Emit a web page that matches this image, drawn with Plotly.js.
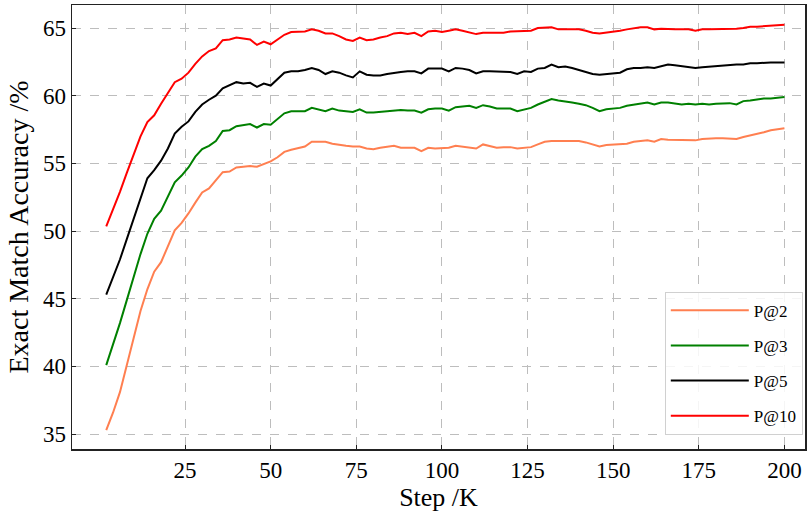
<!DOCTYPE html>
<html>
<head>
<meta charset="utf-8">
<script src="https://cdn.plot.ly/plotly-3.0.1.min.js"></script>
<style>html,body{margin:0;padding:0;background:#fff;}#chart{width:808px;height:513px;}</style>
</head>
<body>
<div id="chart"></div>
<script>
const steps = [2,4,6,8,10,12,14,16,18,20,22,24,26,28,30,32,34,36,38,40,
  42,44,46,48,50,52,54,56,58,60,62,64,66,68,70,72,74,76,78,80,
  82,84,86,88,90,92,94,96,98,100,102,104,106,108,110,112,114,116,118,120,
  122,124,126,128,130,132,134,136,138,140,142,144,146,148,150,152,154,156,158,160,
  162,164,166,168,170,172,174,176,178,180,182,184,186,188,190,192,194,196,198,200];

const p2 = [35.3,36.6,38.1,40.1,42.2,44.1,45.7,47.0,47.7,48.9,50.05,50.6,51.3,52.1,52.85,53.15,53.75,54.35,54.4,54.7,
  54.75,54.8,54.75,54.95,55.15,55.45,55.85,56.0,56.1,56.25,56.6,56.6,56.6,56.45,56.35,56.3,56.25,56.25,56.1,56.05,
  56.15,56.2,56.3,56.15,56.15,56.15,55.9,56.15,56.1,56.1,56.15,56.3,56.25,56.2,56.1,56.4,56.3,56.15,56.2,56.2,
  56.1,56.15,56.2,56.4,56.6,56.65,56.65,56.7,56.7,56.65,56.55,56.4,56.25,56.35,56.4,56.4,56.45,56.6,56.65,56.7,
  56.6,56.8,56.75,56.75,56.7,56.75,56.7,56.8,56.85,56.85,56.85,56.85,56.8,56.95,57.05,57.2,57.3,57.45,57.5,57.6];

const p3 = [40.1,41.6,43.2,44.9,46.6,48.3,49.8,50.9,51.5,52.5,53.6,54.1,54.7,55.5,56.05,56.3,56.65,57.4,57.45,57.75,
  57.8,57.9,57.65,57.9,57.85,58.3,58.7,58.85,58.85,58.85,59.1,59.0,58.85,59.05,58.9,58.85,58.8,59.0,58.75,58.75,
  58.8,58.85,58.95,58.95,58.9,58.9,58.75,59.0,59.05,59.05,58.9,59.15,59.2,59.25,59.1,59.3,59.2,59.05,59.05,59.05,
  58.85,59.0,59.1,59.35,59.55,59.75,59.65,59.6,59.5,59.4,59.3,59.1,58.85,59.0,59.05,59.1,59.25,59.35,59.4,59.5,
  59.35,59.5,59.5,59.45,59.35,59.4,59.35,59.4,59.35,59.4,59.4,59.45,59.35,59.6,59.65,59.75,59.8,59.8,59.85,59.9];

const p5 = [45.3,46.6,47.9,49.4,50.9,52.5,53.9,54.5,55.2,56.1,57.2,57.7,58.1,58.8,59.35,59.7,60.0,60.55,60.8,61.0,
  60.9,60.95,60.65,60.9,60.75,61.25,61.7,61.8,61.8,61.9,62.05,61.9,61.6,61.8,61.7,61.5,61.35,61.8,61.55,61.5,
  61.5,61.6,61.7,61.75,61.8,61.8,61.65,62.0,62.0,62.0,61.8,62.05,62.0,61.9,61.65,61.8,61.8,61.8,61.8,61.75,
  61.6,61.8,61.75,62.0,62.05,62.3,62.1,62.15,62.05,61.9,61.75,61.6,61.55,61.6,61.6,61.7,61.95,62.05,62.05,62.1,
  62.05,62.2,62.3,62.25,62.2,62.15,62.05,62.1,62.15,62.2,62.25,62.3,62.3,62.3,62.4,62.4,62.45,62.45,62.45,62.45];

const p10 = [50.35,51.6,52.9,54.3,55.7,57.0,58.05,58.55,59.4,60.2,61.0,61.25,61.7,62.35,62.9,63.3,63.5,64.1,64.15,64.3,
  64.2,64.15,63.75,64.0,63.8,64.15,64.5,64.7,64.7,64.75,64.9,64.8,64.6,64.6,64.4,64.15,64.05,64.3,64.1,64.15,
  64.3,64.4,64.6,64.65,64.55,64.65,64.4,64.75,64.8,64.7,64.8,64.9,64.8,64.7,64.55,64.65,64.65,64.7,64.65,64.75,
  64.75,64.8,64.8,65.0,65.05,65.05,64.9,64.9,64.9,64.9,64.8,64.65,64.6,64.65,64.75,64.8,64.9,65.0,65.05,65.05,
  64.9,64.95,64.9,64.9,64.9,64.9,64.8,64.9,64.9,64.9,64.9,64.95,64.95,65.0,65.1,65.1,65.15,65.15,65.2,65.25];

const seriesNames = ['P@2','P@3','P@5','P@10'];
const seriesData = [p2,p3,p5,p10];
const seriesColors = ['#FF7F50','#008000','#000000','#FF0000'];
const xTicks = [25,50,75,100,125,150,175,200];
const yTicks = [35,40,45,50,55,60,65];

const traces = seriesNames.map((n,i)=>({
  x: steps, y: seriesData[i], type:'scatter', mode:'lines', name:n,
  legendgroup:'g'+i,
  line:{color:seriesColors[i], width:2}
}));

const font = 'Liberation Serif, Times New Roman, serif';
const axisCommon = {
  showline:true, linecolor:'#222', linewidth:1.5, mirror:true,
  ticks:'inside', ticklen:4, tickcolor:'#222', tickwidth:1,
  showgrid:true, gridcolor:'#bdbdbd', gridwidth:1, griddash:'dash',
  zeroline:false, tickfont:{family:font, size:23, color:'#000'}
};
const layout = {
  width:808, height:513,
  margin:{l:72, r:3, t:5, b:64},
  paper_bgcolor:'#fff', plot_bgcolor:'#fff',
  showlegend:true,
  xaxis: Object.assign({}, axisCommon, {
    range:[-8,206], tickmode:'array', tickvals:xTicks,
    title:{text:'Step /K', font:{family:font, size:26, color:'#000'}, standoff:4}
  }),
  yaxis: Object.assign({}, axisCommon, {
    range:[33.9,66.7], tickmode:'array', tickvals:yTicks,
    title:{text:'Exact Match Accuracy /%', font:{family:font, size:28, color:'#000'}, standoff:6}
  }),
  legend:{
    x:0.997, xanchor:'right', y:0.032, yanchor:'bottom',
    bgcolor:'rgba(255,255,255,0.85)', bordercolor:'#d0d0d0', borderwidth:1,
    font:{family:font, size:17, color:'#000'},
    tracegroupgap:10, itemwidth:78
  }
};
Plotly.newPlot('chart', traces, layout, {displayModeBar:false, staticPlot:true});
</script>
</body>
</html>
